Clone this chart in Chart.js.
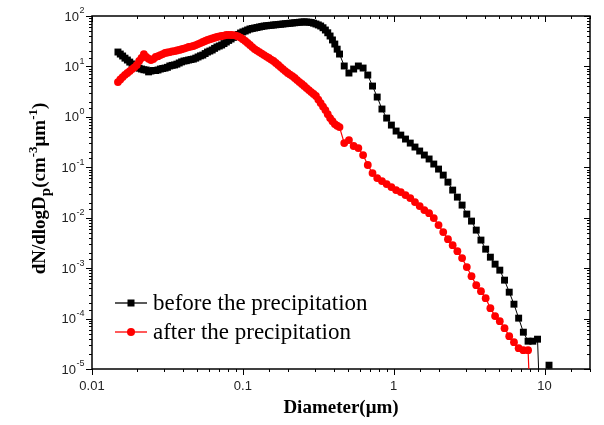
<!DOCTYPE html>
<html>
<head>
<meta charset="utf-8">
<script src="https://cdn.jsdelivr.net/npm/chart.js@4.4.1/dist/chart.umd.min.js"></script>
<style>
  html, body { margin: 0; padding: 0; background: #fff; }
</style>
</head>
<body>
<canvas id="sizeChart" width="604" height="425"></canvas>
<script>
// 粒径 (μm)
var diameters = [0.01486, 0.01540, 0.01596, 0.01654, 0.01716, 0.01779, 0.01843, 0.01911, 0.01982, 0.02054,
    0.02129, 0.02207, 0.02288, 0.02372, 0.02459, 0.02549, 0.02642, 0.02739, 0.02839, 0.02943,
    0.03051, 0.03163, 0.03278, 0.03398, 0.03524, 0.03653, 0.03786, 0.03925, 0.04069, 0.04218,
    0.04372, 0.04532, 0.04699, 0.04871, 0.05048, 0.05233, 0.05426, 0.05625, 0.05829, 0.06042,
    0.06266, 0.06495, 0.06731, 0.06978, 0.07234, 0.07499, 0.07772, 0.08057, 0.08356, 0.08662,
    0.08978, 0.09307, 0.0965, 0.1000, 0.1037, 0.1075, 0.1114, 0.1155, 0.1197, 0.1241,
    0.1287, 0.1334, 0.1383, 0.1434, 0.1486, 0.1540, 0.1596, 0.1654, 0.1716, 0.1779,
    0.1843, 0.1911, 0.1982, 0.2054, 0.2129, 0.2207, 0.2288, 0.2372, 0.2459, 0.2549,
    0.2642, 0.2739, 0.2839, 0.2943, 0.3051, 0.3163, 0.3278, 0.3398, 0.3524, 0.3653,
    0.3786, 0.3925, 0.4069, 0.4218,
    0.4372, 0.4699, 0.5048, 0.5426, 0.5829, 0.6266, 0.6731, 0.7234, 0.7772, 0.8356,
    0.8978, 0.965, 1.037, 1.114, 1.197, 1.287, 1.383, 1.486, 1.596, 1.716,
    1.843, 1.982, 2.129, 2.288, 2.459, 2.642, 2.839, 3.051, 3.278, 3.524,
    3.786, 4.069, 4.372, 4.699, 5.048, 5.426, 5.829, 6.266, 6.731, 7.234,
    7.772, 8.356, 8.978, 9.65, 10.7];

// 降水前
var beforeRain = [19.3, 17.6, 16.1, 14.6, 13.4, 12.2, 11.2, 10.3, 9.73, 9.2,
    8.88, 8.6, 8.48, 7.8, 8.11, 8.3, 8.29, 8.5, 8.88, 9.1,
    9.29, 9.6, 10.2, 10.5, 10.7, 11.1, 11.7, 12.3, 12.8, 13.0,
    13.4, 13.7, 14.0, 14.6, 15.4, 16.2, 16.8, 18.0, 19.3, 20.2,
    21.2, 22.8, 24.3, 25.4, 26.6, 28.4, 30.5, 32.8, 35.0, 37.6,
    40.1, 43.0, 46.0, 48.3, 50.4, 52.8, 55.2, 56.6, 57.8, 59.1,
    60.5, 61.9, 63.3, 64.0, 64.8, 65.5, 66.3, 67.0, 67.8, 68.6,
    69.4, 70.2, 71.0, 71.8, 72.6, 73.4, 74.3, 75.1, 76.0, 76.5,
    76.0, 75.3, 74.3, 72.0, 69.4, 66.5, 63.3, 58.5, 52.7, 46.5,
    40.1, 33.5, 27.8, 22.0,
    17.6, 10.2, 7.40, 8.88, 10.2, 9.29, 6.75, 4.08, 2.47, 1.43,
    0.946, 0.687, 0.523, 0.435, 0.363, 0.302, 0.252, 0.210, 0.175, 0.146,
    0.116, 0.0921, 0.0700, 0.0508, 0.0353, 0.0256, 0.0178, 0.0118, 0.00857, 0.00568,
    0.00360, 0.00238, 0.00165, 0.00120, 0.000912, 0.000578, 0.000334, 0.000193, 0.000102, 5.37e-5,
    3.56e-5, 3.56e-5, 3.90e-5, 1e-7, 1.19e-5];

// 降水后
var afterRain = [4.90, 5.5, 6.16, 6.8, 7.40, 8.1, 8.88, 9.6, 10.7, 12.8,
    14.7, 17.5, 15.4, 14.2, 13.4, 14.0, 15.4, 16.0, 16.8, 17.6,
    18.5, 18.9, 19.3, 19.8, 20.2, 20.7, 21.2, 21.9, 22.6, 23.4,
    24.3, 24.8, 25.4, 26.5, 27.8, 29.1, 30.5, 31.9, 33.4, 34.6,
    35.8, 37.0, 38.3, 39.3, 40.1, 41.0, 42.0, 42.3, 42.0, 41.8,
    41.0, 39.4, 37.4, 34.6, 31.9, 29.2, 26.6, 24.2, 22.1, 20.6,
    19.3, 18.0, 16.8, 15.7, 14.7, 13.7, 12.8, 11.7, 10.7, 9.7,
    8.88, 8.1, 7.40, 6.9, 6.45, 5.9, 5.37, 4.9, 4.48, 4.1,
    3.73, 3.4, 3.10, 2.85, 2.59, 2.2, 1.88, 1.6, 1.36, 1.13,
    0.946, 0.82, 0.720, 0.67,
    0.628, 0.302, 0.347, 0.264, 0.240, 0.175, 0.111, 0.0767, 0.0611, 0.0532,
    0.0464, 0.0405, 0.0353, 0.0322, 0.0281, 0.0245, 0.0204, 0.0170, 0.0142, 0.0123,
    0.00982, 0.00713, 0.00518, 0.00376, 0.00286, 0.00217, 0.00158, 0.00105, 0.000693, 0.000460,
    0.000350, 0.000254, 0.000161, 0.000112, 8.87e-5, 6.45e-5, 4.48e-5, 3.40e-5, 2.59e-5, 2.36e-5,
    2.36e-5, 1e-7, null, null, null];

var seriesNames = ['before the precipitation', 'after the precipitation'];
var xTickLabels = ['0.01', '0.1', '1', '10'];
var yTickExps = [2, 1, 0, -1, -2, -3, -4, -5];

function isDecade(v) {
    var l = Math.log10(v);
    return Math.abs(l - Math.round(l)) < 1e-9;
}

function toPoints(ys) {
    return diameters.map(function(d, i) { return { x: d, y: ys[i] }; });
}

// 坐标框、刻度、y轴标签、图例
var framePlugin = {
    id: 'frameTicks',
    beforeDatasetsDraw: function(chart) {
        var ctx = chart.ctx, a = chart.chartArea;
        var xs = chart.scales.x, ys = chart.scales.y;
        ctx.save();
        ctx.strokeStyle = '#000';
        ctx.lineWidth = 1;
        ctx.beginPath();
        xs.ticks.forEach(function(t) {
            var px = Math.round(xs.getPixelForValue(t.value)) + 0.5;
            var len = isDecade(t.value) ? 6 : 3;
            ctx.moveTo(px, a.bottom); ctx.lineTo(px, a.bottom + len);
            ctx.moveTo(px, a.top); ctx.lineTo(px, a.top + len);
        });
        ys.ticks.forEach(function(t) {
            var py = Math.round(ys.getPixelForValue(t.value)) + 0.5;
            var len = isDecade(t.value) ? 6 : 3;
            ctx.moveTo(a.left, py); ctx.lineTo(a.left - len, py);
            ctx.moveTo(a.right, py); ctx.lineTo(a.right - len, py);
        });
        ctx.stroke();
        ctx.lineWidth = 1.5;
        ctx.strokeRect(a.left, a.top, a.right - a.left, a.bottom - a.top);
        ctx.restore();
    },
    afterDraw: function(chart) {
        var ctx = chart.ctx, a = chart.chartArea;
        var ys = chart.scales.y;
        ctx.save();
        // y轴刻度标签 10^n
        ctx.fillStyle = '#222';
        ctx.textBaseline = 'middle';
        yTickExps.forEach(function(e) {
            var py = ys.getPixelForValue(Math.pow(10, e));
            ctx.font = '13px "Liberation Sans"';
            var w1 = ctx.measureText('10').width;
            ctx.font = '9px "Liberation Sans"';
            var w2 = ctx.measureText(String(e)).width;
            var x0 = a.left - 8 - w1 - w2;
            ctx.font = '13px "Liberation Sans"';
            ctx.fillText('10', x0, py + 1);
            ctx.font = '9px "Liberation Sans"';
            ctx.fillText(String(e), x0 + w1 + 0.5, py - 5);
        });

        // y轴标题
        var parts = [
            { t: 'dN/dlogD', size: 19, dy: 0 },
            { t: 'p', size: 15, dy: 5 },
            { t: '(cm', size: 19, dy: 0 },
            { t: '-3', size: 13, dy: -8 },
            { t: 'μm', size: 19, dy: 0 },
            { t: '-1', size: 13, dy: -8 },
            { t: ')', size: 19, dy: 0 }
        ];
        var total = 0;
        parts.forEach(function(p) {
            ctx.font = 'bold ' + p.size + 'px "Liberation Serif"';
            p.w = ctx.measureText(p.t).width;
            total += p.w;
        });
        ctx.translate(45, (a.top + a.bottom) / 2 - 4);
        ctx.rotate(-Math.PI / 2);
        ctx.fillStyle = '#000';
        ctx.textBaseline = 'alphabetic';
        var cx = -total / 2;
        parts.forEach(function(p) {
            ctx.font = 'bold ' + p.size + 'px "Liberation Serif"';
            ctx.fillText(p.t, cx, p.dy);
            cx += p.w;
        });
        ctx.restore();

        // 图例
        ctx.save();
        chart.data.datasets.forEach(function(ds, i) {
            var lx = a.left + 23, ly = a.top + 287 + i * 29;
            ctx.strokeStyle = ds.borderColor;
            ctx.lineWidth = 1.3;
            ctx.beginPath();
            ctx.moveTo(lx, ly); ctx.lineTo(lx + 32, ly);
            ctx.stroke();
            ctx.fillStyle = ds.pointBackgroundColor;
            if (ds.pointStyle === 'rect') {
                ctx.fillRect(lx + 16 - 3.5, ly - 3.5, 7, 7);
            } else {
                ctx.beginPath();
                ctx.arc(lx + 16, ly, 4, 0, Math.PI * 2);
                ctx.fill();
            }
            ctx.fillStyle = '#000';
            ctx.font = '23px "Liberation Serif"';
            ctx.textBaseline = 'middle';
            ctx.fillText(ds.label, lx + 38, ly + 1);
        });
        ctx.restore();
    }
};

var sizeChart = new Chart(document.getElementById('sizeChart'), {
    type: 'line',
    data: {
        datasets: [{
            label: seriesNames[0],
            data: toPoints(beforeRain),
            borderColor: '#000000',
            backgroundColor: '#000000',
            pointBackgroundColor: '#000000',
            borderWidth: 1,
            pointStyle: 'rect',
            pointRadius: 4.9,
            pointBorderWidth: 0,
            tension: 0,
            order: 2
        }, {
            label: seriesNames[1],
            data: toPoints(afterRain),
            borderColor: '#ff0000',
            backgroundColor: '#ff0000',
            pointBackgroundColor: '#ff0000',
            borderWidth: 1.2,
            pointStyle: 'circle',
            pointRadius: 3.9,
            pointBorderWidth: 0,
            tension: 0,
            order: 1
        }]
    },
    options: {
        responsive: false,
        animation: false,
        layout: { padding: { left: 0, right: 14, top: 16, bottom: 0 } },
        plugins: {
            legend: { display: false },
            tooltip: { enabled: false }
        },
        scales: {
            x: {
                type: 'logarithmic',
                min: 0.01,
                max: 20,
                grid: { display: false, drawTicks: false },
                border: { display: false },
                ticks: {
                    autoSkip: false,
                    maxRotation: 0,
                    padding: 10,
                    color: '#222',
                    font: { family: 'Liberation Sans', size: 13 },
                    callback: function(v) {
                        if (!isDecade(v)) return '';
                        var k = Math.round(Math.log10(v)) + 2;
                        return xTickLabels[k] || '';
                    }
                },
                title: {
                    display: true,
                    text: 'Diameter(μm)',
                    color: '#000',
                    font: { family: 'Liberation Serif', size: 19, weight: 'bold' },
                    padding: { top: 0, bottom: 6 }
                },
                afterFit: function(s) { s.height = 56; }
            },
            y: {
                type: 'logarithmic',
                min: 1e-5,
                max: 100,
                grid: { display: false, drawTicks: false },
                border: { display: false },
                ticks: { display: false },
                afterFit: function(s) { s.width = 92; }
            }
        }
    },
    plugins: [framePlugin]
});
</script>
</body>
</html>
